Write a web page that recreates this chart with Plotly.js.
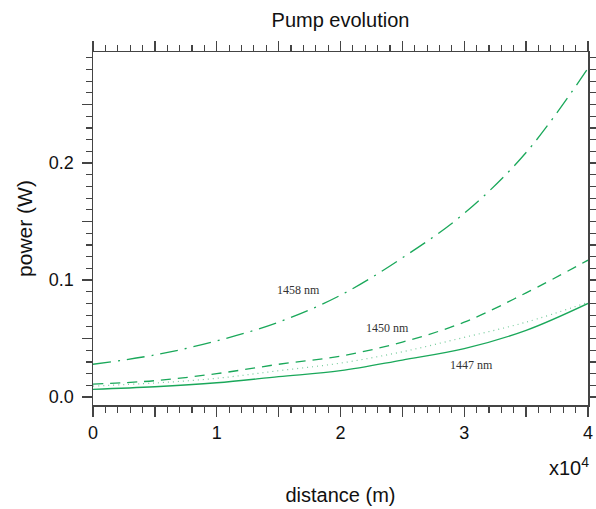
<!DOCTYPE html>
<html>
<head>
<meta charset="utf-8">
<script src="https://cdn.plot.ly/plotly-3.0.1.min.js"></script>
<style>html,body{margin:0;padding:0;background:#fff;}#chart{width:596px;height:509px;}</style>
</head>
<body>
<div id="chart"></div>
<script>
// distance (m)
const distance = [0, 5000, 10000, 15000, 20000, 25000, 30000, 35000, 40000];
// pump power (W) for each wavelength
const p1458 = [0.028, 0.036, 0.048, 0.064, 0.087, 0.119, 0.157, 0.209, 0.281];
const p1450 = [0.011, 0.014, 0.020, 0.028, 0.035, 0.047, 0.064, 0.089, 0.117];
const pDotted = [0.0094, 0.012, 0.016, 0.0225, 0.029, 0.0387, 0.051, 0.064, 0.081];
const p1447 = [0.0066, 0.0088, 0.0122, 0.0174, 0.0225, 0.0316, 0.0413, 0.057, 0.080];

const xTickVals = [0, 5000, 10000, 15000, 20000, 25000, 30000, 35000, 40000];
const xTickText = ["0", "", "1", "", "2", "", "3", "", "4"];
const yTickVals = [0, 0.05, 0.1, 0.15, 0.2, 0.25];
const yTickText = ["0.0", "", "0.1", "", "0.2", ""];

const labels = ["1458 nm", "1450 nm", "1447 nm"];
const labelX = [16570, 23760, 30550];
const labelY = [0.0915, 0.059, 0.0274];

const green = "#1aa85a";
const axisCol = "#444";

const traces = [
  {x: distance, y: p1458, mode: "lines", line: {color: green, width: 1.3, dash: "18px,7px,2px,7px", shape: "spline"}, name: labels[0]},
  {x: distance, y: p1450, mode: "lines", line: {color: green, width: 1.3, dash: "10px,7px", shape: "spline"}, name: labels[1]},
  {x: distance, y: pDotted, mode: "lines", line: {color: "rgba(26,168,90,0.6)", width: 1.2, dash: "1px,4px", shape: "spline"}, name: "dotted"},
  {x: distance, y: p1447, mode: "lines", line: {color: green, width: 1.3, shape: "spline"}, name: labels[2]}
];

const family = "Liberation Sans, Arial, sans-serif";
const tickFont = {family: family, size: 18, color: "#111"};
const titleFont = {family: family, size: 20, color: "#111"};

const annotations = labels.map((t, i) => ({
  x: labelX[i], y: labelY[i], xref: "x", yref: "y", text: t, showarrow: false,
  font: {family: "Liberation Serif, Times New Roman, serif", size: 12, color: "#333"}
}));
annotations.push({
  x: 1.006, y: -(466 - 405) / 353, xref: "paper", yref: "paper", xanchor: "right", yanchor: "middle",
  text: "x10<sup>4</sup>", showarrow: false, font: titleFont
});

const layout = {
  width: 596, height: 509,
  margin: {l: 93, r: 8, t: 52, b: 104},
  paper_bgcolor: "#fff", plot_bgcolor: "#fff",
  showlegend: false,
  font: tickFont,
  title: {text: "Pump evolution", font: titleFont,
          x: 0.5, xref: "paper", y: 1 - 20 / 509, yref: "container", yanchor: "middle"},
  xaxis: {
    range: [0, 40000], showgrid: false, zeroline: false,
    showline: true, linecolor: axisCol, linewidth: 1.5, mirror: "ticks",
    ticks: "outside", ticklen: 10, tickwidth: 1.3, tickcolor: axisCol,
    tickmode: "array", tickvals: xTickVals, ticktext: xTickText,
    ticklabelstandoff: 1, tickfont: tickFont,
    minor: {tickmode: "linear", tick0: 0, dtick: 1000, ticks: "outside", ticklen: 6, tickwidth: 1.2, tickcolor: axisCol},
    title: {text: "distance (m)", font: titleFont, standoff: 46}
  },
  yaxis: {
    range: [-0.0068, 0.2949], showgrid: false, zeroline: false,
    showline: true, linecolor: axisCol, linewidth: 1.5, mirror: "ticks",
    ticks: "outside", ticklen: 10, tickwidth: 1.3, tickcolor: axisCol,
    tickmode: "array", tickvals: yTickVals, ticktext: yTickText,
    ticklabelstandoff: 4, tickfont: tickFont,
    minor: {tickmode: "linear", tick0: 0, dtick: 0.01, ticks: "outside", ticklen: 6, tickwidth: 1.2, tickcolor: axisCol},
    title: {text: "power (W)", font: {family: family, size: 21, color: "#111"}, standoff: 10}
  },
  annotations: annotations
};

Plotly.newPlot("chart", traces, layout, {displayModeBar: false, staticPlot: true});
</script>
</body>
</html>
